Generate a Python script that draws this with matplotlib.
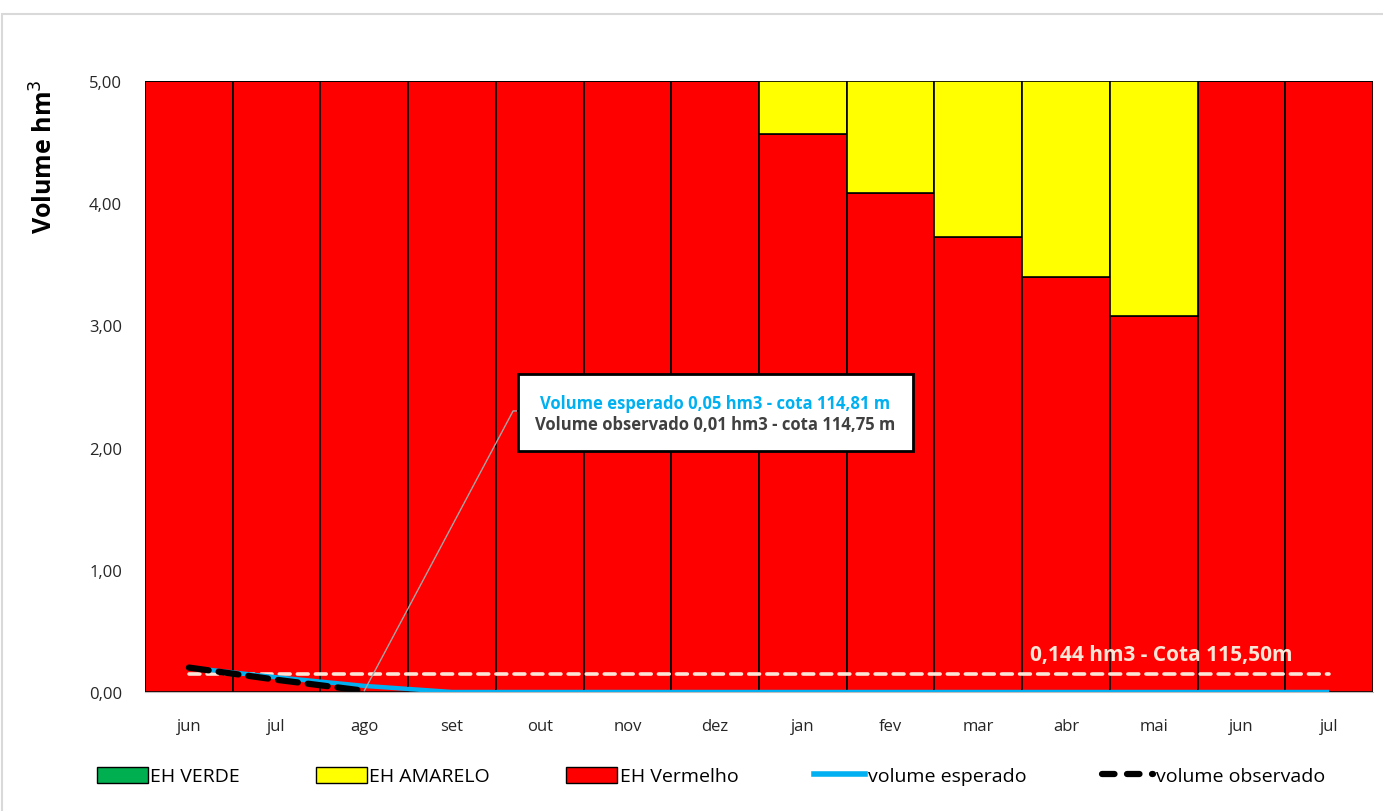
import matplotlib
matplotlib.use("Agg")
import matplotlib.pyplot as plt
from matplotlib.patches import Rectangle, Patch
from matplotlib.lines import Line2D
import numpy as np

plt.rcParams["font.family"] = ["Open Sans", "DejaVu Sans"]

# months on the x axis
meses = ["jun", "jul", "ago", "set", "out", "nov", "dez",
         "jan", "fev", "mar", "abr", "mai", "jun", "jul"]

# stacked levels (hm3)
eh_verde = [0, 0, 0, 0, 0, 0, 0, 0, 0, 0, 0, 0, 0, 0]
eh_vermelho = [5.0, 5.0, 5.0, 5.0, 5.0, 5.0, 5.0,
               4.57, 4.08, 3.72, 3.40, 3.08, 5.0, 5.0]
eh_amarelo = [0, 0, 0, 0, 0, 0, 0,
              0.43, 0.92, 1.28, 1.60, 1.92, 0, 0]

# volumes
vol_esperado = [0.20, 0.12, 0.05, 0.0, 0.0, 0.0, 0.0,
                0.0, 0.0, 0.0, 0.0, 0.0, 0.0, 0.0]
vol_observado = [0.20, 0.10, 0.01]
vol_minimo = 0.144

x = np.arange(len(meses))

fig = plt.figure(figsize=(13.83, 8.12), dpi=100)
ax = fig.add_axes([145 / 1383, 119 / 812, 1228 / 1383, 611 / 812])

# light frame around the chart area
fig.patches.append(Rectangle((2 / 1383, -0.01), 1.02, (812 - 15) / 812 + 0.01,
                             transform=fig.transFigure, fill=False,
                             edgecolor="#d9d9d9", lw=1.5))

ax.bar(x, eh_verde, width=1.0, color="#00b050", edgecolor="black", linewidth=0)
ax.bar(x, eh_vermelho, width=1.0, color="#ff0000", edgecolor="black", linewidth=1.2)
ax.bar(x, eh_amarelo, width=1.0, bottom=eh_vermelho, color="#ffff00",
       edgecolor="black", linewidth=1.2)

ax.plot(x, [vol_minimo] * len(x), color="#fbe5d6", lw=2.6, dashes=(3, 2),
        solid_capstyle="round", dash_capstyle="round")
ax.plot(x, vol_esperado, color="#00b0f0", lw=3.2, solid_capstyle="butt")
ax.plot(x[:len(vol_observado)], vol_observado, color="black", lw=4.5,
        dashes=(3.2, 1.6), dash_capstyle="round")

ax.text(9.59, 0.31, "0,144 hm3 - Cota 115,50m", color="#fbe5d6",
        fontsize=15, fontweight="bold", va="center", ha="left")

# annotation box
ax.annotate("", xy=(2, 0.01), xytext=(3.753, 2.30),
            arrowprops=dict(arrowstyle="-", color="#a6a6a6", lw=1,
                            connectionstyle="angle,angleA=0,angleB=62,rad=0",
                            shrinkA=0, shrinkB=0))
ax.add_patch(Rectangle((3.753, 1.972), 4.504, 0.63, facecolor="white",
                       edgecolor="black", lw=2, zorder=5))
ax.text(6.0, 2.365, "Volume esperado 0,05 hm3 - cota 114,81 m", color="#00b0f0",
        fontsize=12, fontweight="bold", ha="center", va="center", zorder=6)
ax.text(6.0, 2.195, "Volume observado 0,01 hm3 - cota 114,75 m", color="#404040",
        fontsize=12, fontweight="bold", ha="center", va="center", zorder=6)

ax.set_xlim(-0.5, len(x) - 0.5)
ax.set_ylim(0, 5)
ax.set_xticks(x)
ax.set_xticklabels(meses, fontsize=12)
ax.set_yticks(np.arange(0, 5.01, 1))
ax.set_yticklabels([f"{v:.2f}".replace(".", ",") for v in np.arange(0, 5.01, 1)],
                   fontsize=12)
ax.tick_params(axis="both", length=0, colors="#262626")
ax.tick_params(axis="y", pad=16.5)
ax.tick_params(axis="x", pad=19)
for s in ["top", "left", "right"]:
    ax.spines[s].set_visible(False)
ax.spines["bottom"].set_color("#bfbfbf")

fig.text(45 / 1383, 1 - 157 / 812, "Volume hm$^3$", rotation=90, fontsize=18,
         fontweight="bold", ha="center", va="center")

handles = [
    Patch(facecolor="#00b050", edgecolor="black", label="EH VERDE"),
    Patch(facecolor="#ffff00", edgecolor="black", label="EH AMARELO"),
    Patch(facecolor="#ff0000", edgecolor="black", label="EH Vermelho"),
    Line2D([], [], color="#00b0f0", lw=4, label="volume esperado"),
    Line2D([], [], color="black", lw=4.5, dashes=(2, 2), dash_capstyle="round",
           label="volume observado"),
]
fig.legend(handles=handles, loc="center", bbox_to_anchor=(0.514, 1 - 777 / 812),
           ncol=5, frameon=False, fontsize=14, handlelength=2.6,
           handleheight=0.9, handletextpad=0.15, columnspacing=3.9)

fig.savefig("out.png", dpi=100)
